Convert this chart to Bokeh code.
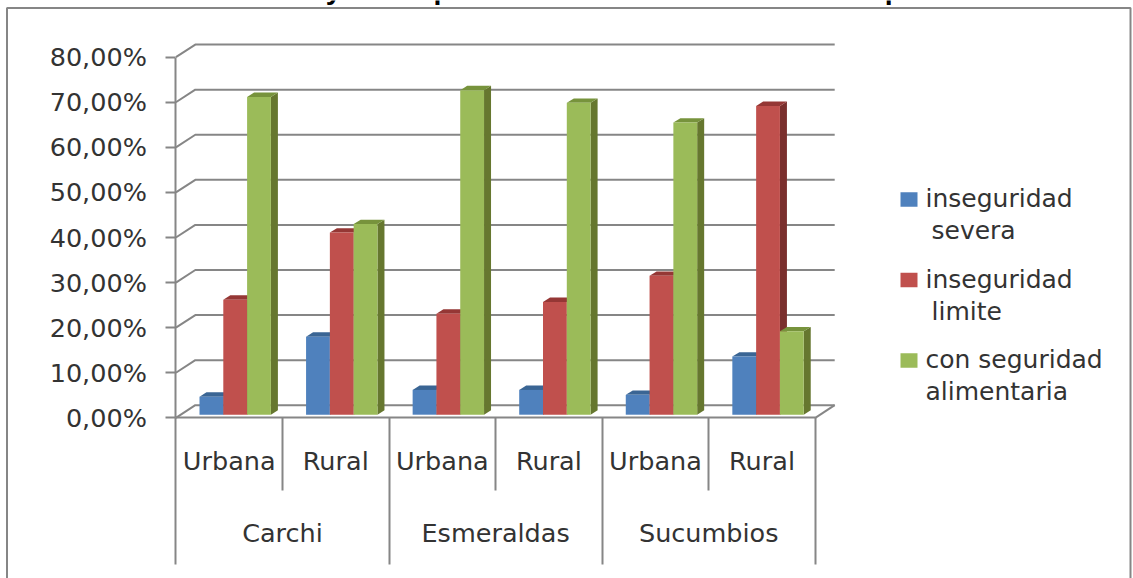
from bokeh.plotting import figure
from bokeh.embed import file_html
from bokeh.resources import INLINE
from bokeh.models import LinearAxis, FixedTicker, Range1d
from bokeh.core.properties import value

# ---------- data ----------
title_text = "Food insecurity in the provinces of the northern border per areas"
provinces = ["Carchi", "Esmeraldas", "Sucumbios"]
areas = ["Urbana", "Rural", "Urbana", "Rural", "Urbana", "Rural"]
y_ticks = [0, 10, 20, 30, 40, 50, 60, 70, 80]
y_labels = ["0,00%", "10,00%", "20,00%", "30,00%", "40,00%", "50,00%", "60,00%", "70,00%", "80,00%"]
severa = [4.0, 17.3, 5.5, 5.5, 4.4, 12.9]
limite = [25.5, 40.4, 22.4, 25.0, 30.8, 68.5]
con_seguridad = [70.5, 42.3, 72.0, 69.2, 64.8, 18.5]
legend_first = ["inseguridad", "inseguridad", "con seguridad"]
legend_second = ["severa", "limite", "alimentaria"]

# ---------- styles ----------
W, H = 1133, 578
AX_X, AX_X_END = 175.4, 814.8
Y0, Y80 = 417.3, 56.7
px_x = 6 / (AX_X_END - AX_X)          # category units per px
px_y = 80 / (Y0 - Y80)                # value units per px
GRID = "#868686"
TEXT = "#333333"
FONT = "DejaVu Sans"
FS = "25.5px"
series = [
    (severa, "#4F81BD", "#3A6594", "#376092"),
    (limite, "#C0504D", "#953735", "#7A2F2D"),
    (con_seguridad, "#9BBB59", "#77933C", "#66772F"),
]
DEPTH_X, DEPTH_Y = 19.4 * px_x, 12.6 * px_y
BAR_DX, BAR_DY = 7 * px_x, 4.4 * px_y
BAR_W = 23.8 * px_x
BAR_START = 23.6 * px_x
BAR_BASE = 3.1 * px_y


def X(px):
    return (px - AX_X) * px_x


def Y(py):
    return (Y0 - py) * px_y


p = figure(width=W, height=H, output_backend="svg", toolbar_location=None,
           x_axis_type=None, y_axis_type=None, min_border=0,
           x_range=Range1d(X(0), X(W)), y_range=Range1d(Y(H), Y(0)),
           outline_line_color=None, background_fill_color="white",
           border_fill_color="white")
p.grid.visible = False

# outer frame
p.line([X(6.5), X(6.5), X(1130), X(1130)], [Y(H), Y(7.5), Y(7.5), Y(H)], line_color=GRID, line_width=2)

# title, cut off by the top of the page
p.text([X(570)], [Y(-12)], text=[title_text], text_font=value("Liberation Sans"),
       text_font_style="bold", text_font_size="28.5px", text_align="center",
       text_baseline="alphabetic", text_color="#000000")

# walls
for t in y_ticks:
    p.line([0, DEPTH_X, 6 + DEPTH_X], [t, t + DEPTH_Y, t + DEPTH_Y], line_color=GRID, line_width=2)
p.line([6, 6 + DEPTH_X], [0, DEPTH_Y], line_color=GRID, line_width=2)

# bars
for s, (vals, front, top, side) in enumerate(series):
    xs = [i + BAR_START + (s + 0.5) * BAR_W for i in range(6)]
    side_x, side_y, top_x, top_y = [], [], [], []
    for x, v in zip(xs, vals):
        r = x + BAR_W / 2
        l = x - BAR_W / 2
        t = BAR_BASE + v
        side_x.append([r, r + BAR_DX, r + BAR_DX, r])
        side_y.append([BAR_BASE, BAR_BASE + BAR_DY, t + BAR_DY, t])
        top_x.append([l, l + BAR_DX, r + BAR_DX, r])
        top_y.append([t, t + BAR_DY, t + BAR_DY, t])
    p.patches(side_x, side_y, fill_color=side, line_color=None)
    p.patches(top_x, top_y, fill_color=top, line_color=None)
    p.vbar(x=xs, width=BAR_W, bottom=BAR_BASE, top=[BAR_BASE + v for v in vals],
           fill_color=front, line_color=None)

# value axis
yax = LinearAxis(fixed_location=0, bounds=(0, 80), ticker=FixedTicker(ticks=y_ticks),
                 major_label_overrides=dict(zip(y_ticks, y_labels)),
                 axis_line_color=GRID, axis_line_width=2,
                 major_tick_line_color=GRID, major_tick_line_width=2,
                 major_tick_in=0, major_tick_out=10, minor_tick_out=0, minor_tick_in=0,
                 major_label_standoff=19, major_label_text_font=FONT,
                 major_label_text_font_size=FS, major_label_text_color=TEXT)
p.add_layout(yax, "left")

# category axis: separators
sep = LinearAxis(fixed_location=0, bounds=(0, 6),
                 ticker=FixedTicker(ticks=[0, 2, 4, 6], minor_ticks=[1, 3, 5]),
                 major_label_text_font_size="0px", major_label_text_color=None,
                 axis_line_color=GRID, axis_line_width=2,
                 major_tick_line_color=GRID, major_tick_line_width=2, major_tick_in=0,
                 major_tick_out=147, minor_tick_line_color=GRID, minor_tick_line_width=2,
                 minor_tick_in=0, minor_tick_out=73)
p.add_layout(sep, "below")

# category axis: labels
area_pos = [i + 0.5 for i in range(6)]
a1 = LinearAxis(fixed_location=0, ticker=FixedTicker(ticks=area_pos),
                major_label_overrides=dict(zip(area_pos, areas)),
                axis_line_color=None, major_tick_line_color=None, minor_tick_line_color=None,
                major_label_standoff=22, major_label_text_font=FONT,
                major_label_text_font_size=FS, major_label_text_color=TEXT)
p.add_layout(a1, "below")
prov_pos = [1, 3, 5]
a2 = LinearAxis(fixed_location=0, ticker=FixedTicker(ticks=prov_pos),
                major_label_overrides=dict(zip(prov_pos, provinces)),
                axis_line_color=None, major_tick_line_color=None, minor_tick_line_color=None,
                major_label_standoff=94, major_label_text_font=FONT,
                major_label_text_font_size=FS, major_label_text_color=TEXT)
p.add_layout(a2, "below")

# legend: two-line entries with the reference's wider line pitch
LEG_Y = [199, 279.5, 360]
LEG_INDENT = [6, 6, 0]
for (vals, front, _, _), py, first, second, ind in zip(series, LEG_Y, legend_first, legend_second, LEG_INDENT):
    p.rect([X(908.5)], [Y(py)], width=17 * px_x, height=14.5 * px_y, fill_color=front, line_color=None)
    p.text([X(925)], [Y(py - 1)], text=[first], text_font=value(FONT), text_font_size="25px",
           text_color=TEXT, text_align="left", text_baseline="middle")
    p.text([X(925 + ind)], [Y(py + 31)], text=[second], text_font=value(FONT), text_font_size="25px",
           text_color=TEXT, text_align="left", text_baseline="middle")

open("out.html", "w").write(file_html(p, INLINE))
